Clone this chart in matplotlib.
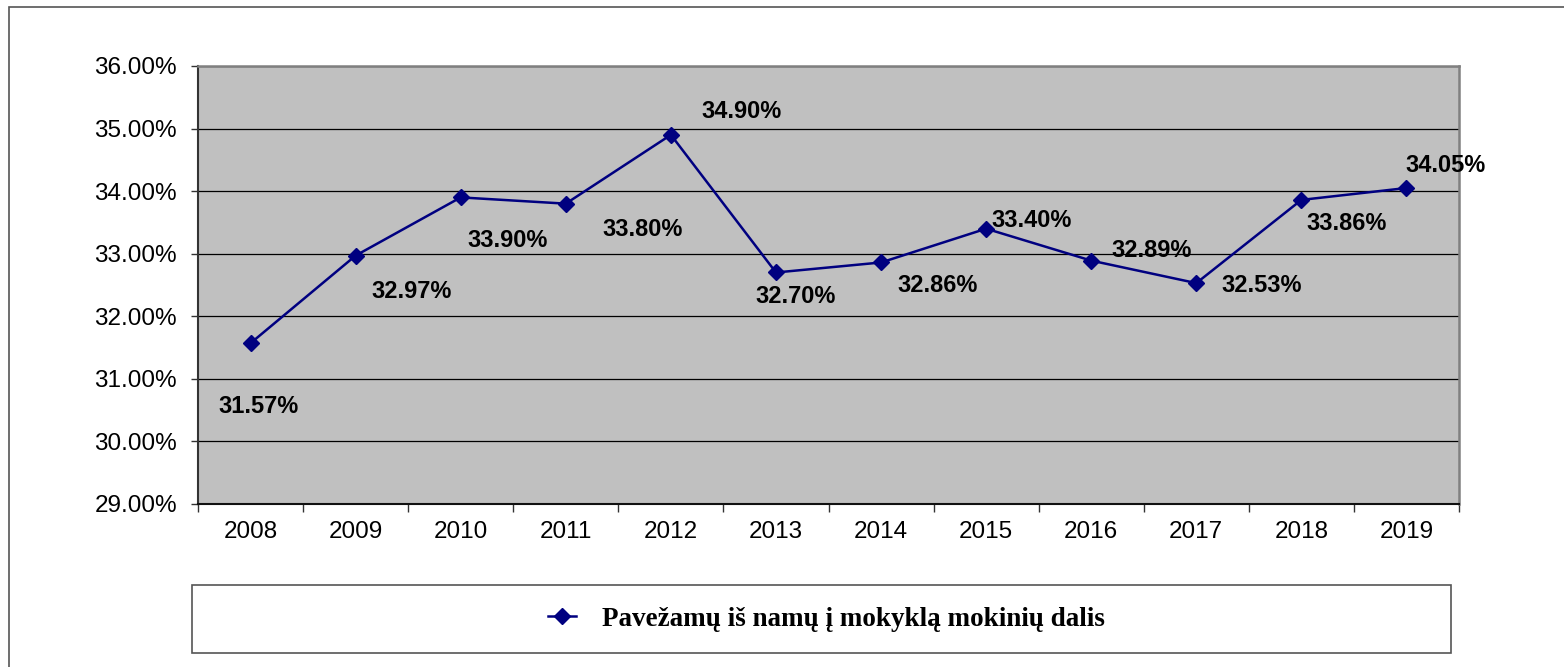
import matplotlib
matplotlib.use('Agg')
import matplotlib.pyplot as plt
from matplotlib.patches import Rectangle
from matplotlib.lines import Line2D
from matplotlib.ticker import FuncFormatter, FixedLocator

# ------------------------------------------------------------------
# Data
# ------------------------------------------------------------------
years = ['2008', '2009', '2010', '2011', '2012', '2013',
         '2014', '2015', '2016', '2017', '2018', '2019']
share = [31.57, 32.97, 33.90, 33.80, 34.90, 32.70,
         32.86, 33.40, 32.89, 32.53, 33.86, 34.05]
series_name = 'Pavežamų iš namų į mokyklą mokinių dalis'

# label offsets from each point, in pixels (dx right, dy down)
label_offsets_px = [(8, 63), (56, 36), (47, 43), (77, 26), (71, -23), (20, 24),
                    (57, 23), (45, -8), (60, -10), (65, 2), (45, 24), (39, -23)]

NAVY = '#000080'
DPI = 100
PX = 72.0 / DPI  # pixels -> points

plt.rcParams['font.family'] = ['Liberation Sans', 'DejaVu Sans']

fig = plt.figure(figsize=(15.64, 6.67), dpi=DPI)
W, H = 1564, 667

# outer chart border
fig.patches.append(Rectangle((9 / W, -0.05), 1.2, 1 - 7 / H + 0.05,
                             transform=fig.transFigure, fill=False,
                             edgecolor='#555555', linewidth=1.2))

ax = fig.add_axes([198 / W, 1 - 504 / H, (1459 - 198) / W, (504 - 66) / H])
ax.set_facecolor('#C0C0C0')

x = list(range(len(years)))
ax.plot(x, share, color=NAVY, linewidth=1.8, marker='D', markersize=8.5,
        markerfacecolor=NAVY, markeredgecolor=NAVY, zorder=3)

for xi, yi, (dx, dy) in zip(x, share, label_offsets_px):
    ax.annotate(f'{yi:.2f}%', (xi, yi), xytext=(dx * PX, -dy * PX),
                textcoords='offset points', ha='center', va='center',
                fontsize=17, fontweight='bold', color='black',
                annotation_clip=False, zorder=4)

ax.set_xlim(-0.5, len(years) - 0.5)
ax.set_ylim(29, 36)
ax.set_yticks([29, 30, 31, 32, 33, 34, 35, 36])
ax.yaxis.set_major_formatter(FuncFormatter(lambda v, p: f'{v:.2f}%'))
ax.grid(axis='y', color='black', linewidth=0.9)
ax.set_axisbelow(True)

ax.set_xticks(x)
ax.set_xticklabels(years)
ax.xaxis.set_minor_locator(FixedLocator([i - 0.5 for i in range(len(years) + 1)]))
ax.tick_params(axis='x', which='major', length=0, pad=12, labelsize=17.5)
ax.tick_params(axis='x', which='minor', length=6, width=1, color='#333333')
ax.tick_params(axis='y', length=5, width=1, pad=10, labelsize=17.5, color='#333333')

for side in ('top', 'right'):
    ax.spines[side].set_color('#808080')
    ax.spines[side].set_linewidth(1.8)
ax.spines['left'].set_color('#333333')
ax.spines['bottom'].set_color('#111111')
ax.spines['left'].set_linewidth(1.5)
ax.spines['bottom'].set_linewidth(1.5)

# legend box
lx0, lx1, ly0, ly1 = 192, 1451, 585, 653
fig.patches.append(Rectangle((lx0 / W, 1 - ly1 / H), (lx1 - lx0) / W, (ly1 - ly0) / H,
                             transform=fig.transFigure, fill=True, facecolor='white',
                             edgecolor='#555555', linewidth=1.2))
handle = Line2D([], [], color=NAVY, linewidth=1.8, marker='D', markersize=8.5,
                markerfacecolor=NAVY)
fig.legend([handle], [series_name], loc='center',
           bbox_to_anchor=((lx0 + lx1 + 10) / 2 / W, 1 - (ly0 + ly1) / 2 / H),
           frameon=False, handlelength=1.05, handletextpad=0.95,
           prop={'family': 'Liberation Serif', 'weight': 'bold', 'size': 19.5})

fig.savefig('out.png', dpi=DPI, facecolor='white')
